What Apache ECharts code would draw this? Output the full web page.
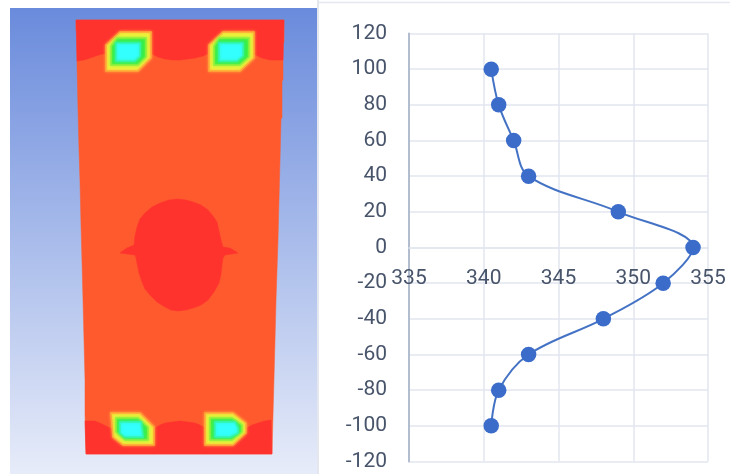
<!DOCTYPE html>
<html><head><meta charset="utf-8">
<style>html,body{margin:0;padding:0;background:#fff}#c{width:730px;height:474px}</style>
<script src="https://cdn.jsdelivr.net/npm/echarts@6/dist/echarts.min.js"></script>
</head><body><div id="c"></div>
<script>
// Line profile
const temperature = [340.5,341,342,343,349,354,352,348,343,341,340.5];
const position = [100,80,60,40,20,0,-20,-40,-60,-80,-100];

// Contour regions, in picture units of the left panel's own axes
const body = [[76,20],[284,20],[284,42],[283,43],[283,80],[282,81],[282,118],[281,119],[280,160],[279,200],[278,240],[277,270],[276,300],[275,340],[274,378],[273,415],[272,454],[86,454],[85,415],[85,380],[84,340],[83,300],[82,262],[81,225],[80,182],[79,150],[78,110],[77,65],[77,31],[76,30]];
const topBand = [[76,20],[284,20],[283,60],[270,60],[262,58],[256,55],[210,53],[203,56],[195,58],[188,59],[180,60],[172,60],[165,59],[158,57],[152,54],[102,54],[96,56],[90,58],[84,60],[77,61]];
const bottomBand = [[85,421],[90,421],[95,421],[102,424],[110,428],[155,428],[160,425],[165,423],[172,422],[180,421],[188,422],[195,423],[200,425],[205,428],[247,428],[252,425],[258,423],[265,421],[271,420],[272,454],[86,454]];
const centreBlob = [[178,199],[186,200],[193,202],[201,205],[208,210],[213,216],[217,222],[219,231],[221,240],[223,247],[230,248],[238,253],[225,255],[223,258],[222,265],[221,274],[219,283],[214,292],[208,300],[201,305],[193,308],[186,310],[178,311],[171,310],[165,307],[157,302],[150,295],[145,289],[142,282],[139,273],[137,263],[136,258],[135,255],[120,253],[124,250],[127,248],[134,245],[135,236],[137,227],[140,219],[145,213],[152,207],[160,203],[169,200]];
const spotTL = [[[106,45],[120,32],[151,32],[151,58],[138,71],[106,71]],[[111,46],[117,38],[146,38],[146,57],[138,65],[111,65]],[[116,43],[140,43],[140,56],[135,61],[116,61]]];
const spotTR = [[[209,45],[223,32],[254,32],[254,58],[240,71],[209,71]],[[214,46],[219,38],[249,38],[249,57],[240,65],[214,65]],[[219,43],[243,43],[243,56],[237,61],[219,61]]];
const spotBL = [[[111,413],[140,413],[154,427],[154,445],[123,445],[113,437]],[[116,418],[138,418],[148,427],[148,440],[125,440],[116,432]],[[120,422],[141,422],[143,437],[125,437],[120,433]]];
const spotBR = [[[205,413],[233,413],[246,423],[246,433],[233,445],[205,445]],[[210,418],[232,418],[242,425],[242,432],[232,440],[210,440]],[[215,422],[235,422],[238,428],[238,433],[230,437],[215,437]]];

const RED='#ff332e', ORANGE='#ff5a2e', YELLOW='#f0f53c', GREEN='#33ee44', CYAN='#33ffff';
const regions = [
  {pts:body,color:ORANGE},{pts:topBand,color:RED},{pts:bottomBand,color:RED},{pts:centreBlob,color:RED}
];
[spotTL,spotTR,spotBL,spotBR].forEach(s=>{
  regions.push({pts:s[0],color:YELLOW,soft:'#ffa838'});
  regions.push({pts:s[1],color:GREEN,soft:'#93f03c'});
  regions.push({pts:s[2],color:CYAN,soft:'#33f5b0'});
});

const chart = echarts.init(document.getElementById('c'),null,{renderer:'canvas'});
chart.setOption({
  animation:false,
  backgroundColor:'#fff',
  graphic:[
    {type:'line',shape:{x1:318,y1:0,x2:318,y2:474},style:{stroke:'#e4e7ee',lineWidth:2},silent:true},
    {type:'line',shape:{x1:318,y1:2.5,x2:730,y2:2.5},style:{stroke:'#e4e7ee',lineWidth:1.5},silent:true}
  ],
  grid:[
    {left:409,top:33.5,width:299,height:428,outerBoundsMode:'none'},
    {left:10,top:8,width:307,height:466,show:true,borderWidth:0,outerBoundsMode:'none',
     backgroundColor:{type:'linear',x:0,y:0,x2:0,y2:1,colorStops:[{offset:0,color:'#6a8bdc'},{offset:1,color:'#e7ecf9'}]}}
  ],
  xAxis:[
    {type:'value',gridIndex:0,min:335,max:355,interval:5,position:'bottom',offset:-214,
     axisLine:{show:true,onZero:false,lineStyle:{color:'#e2e6ee',width:1.5}},
     axisTick:{show:false},
     axisLabel:{color:'#47546a',fontSize:21,fontFamily:'Roboto',margin:21,showMinLabel:true,showMaxLabel:true},
     splitLine:{show:true,lineStyle:{color:'#e2e6ee',width:1.5}}},
    {type:'value',gridIndex:1,min:10,max:317,show:false}
  ],
  yAxis:[
    {type:'value',gridIndex:0,min:-120,max:120,interval:20,
     axisLine:{show:true,lineStyle:{color:'#b3bdd0',width:2}},
     axisTick:{show:false},
     axisLabel:{color:'#47546a',fontSize:21,fontFamily:'Roboto',margin:22,showMinLabel:true,showMaxLabel:true},
     splitLine:{show:true,lineStyle:{color:'#e2e6ee',width:1.5}}},
    {type:'value',gridIndex:1,min:8,max:474,inverse:true,show:false}
  ],
  series:[
    {type:'custom',xAxisIndex:1,yAxisIndex:1,coordinateSystem:'cartesian2d',silent:true,
     data:regions.map((r,i)=>[r.pts[0][0],r.pts[0][1],i]),
     encode:{x:0,y:1},
     renderItem:function(params,api){
       const r=regions[api.value(2)];
       return {type:'polygon',shape:{points:r.pts.map(p=>api.coord(p))},
         style:{fill:r.color,stroke:r.soft||r.color,lineWidth:r.soft?1.5:0.5,
                shadowBlur:r.soft?3:0,shadowColor:r.soft||'transparent'}};
     }},
    {type:'line',xAxisIndex:0,yAxisIndex:0,
     data:temperature.map((t,i)=>[t,position[i]]),
     smooth:0.35,symbol:'circle',symbolSize:15.5,showSymbol:true,clip:false,
     lineStyle:{color:'#4472c4',width:2},
     itemStyle:{color:'#3b6cca'}}
  ]
});
</script></body></html>
